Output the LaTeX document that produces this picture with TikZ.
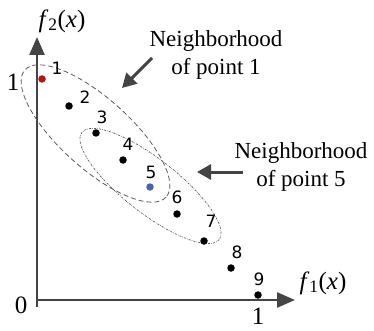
\documentclass[tikz,border=0pt]{standalone}
\usepackage{fontspec}
\setmainfont{Liberation Serif}
\newfontfamily\numfont{DejaVu Sans}
\usetikzlibrary{arrows.meta}
\definecolor{axisgray}{RGB}{68,68,68}
\definecolor{ringgray}{RGB}{90,90,90}
\definecolor{ptred}{RGB}{180,20,20}
\definecolor{ptblue}{RGB}{70,100,170}

\begin{document}
\begin{tikzpicture}[x=1pt,y=-1pt,line width=.5pt,
  axis/.style={draw=axisgray,line width=2.4pt,-{Triangle[length=18pt,width=15pt]}},
  pointer/.style={draw=axisgray,line width=3pt,-{Triangle[length=14pt,width=15pt]}},
  dot/.style={circle,inner sep=0pt,minimum size=7.5pt},
  numlabel/.style={inner sep=0pt,font=\numfont\fontsize{17}{20}\selectfont},
  textlabel/.style={inner sep=0pt,align=center,font=\fontsize{23}{28}\selectfont},
  axislabel/.style={inner sep=0pt,font=\fontsize{25}{28}\selectfont}]
\path[use as bounding box] (0,0) rectangle (374,331);
% axes
\coordinate (O) at (37,300);
\coordinate (Olow) at (37,307);
\coordinate (ytip) at (37,37);
\coordinate (xtip) at (295,300);
\draw[axis] (Olow) -- (ytip);
\draw[axis] (O) -- (xtip);
\node[axislabel] (fy) at (62,21) {\textit{f}\textsubscript{2}(\textit{x})};
\node[axislabel] (fx) at (323,283) {\textit{f}\textsubscript{1}(\textit{x})};
\node[axislabel] (yone) at (13,82) {1};
\node[axislabel] (zero) at (21,305) {0};
\node[axislabel] (xone) at (258,316) {1};
% neighborhoods
\draw[ringgray,line width=.8pt,dash pattern=on 5pt off 3pt] (95.5,133.5) ellipse [x radius=95,y radius=35,rotate=-42];
\draw[ringgray,line width=.7pt,dash pattern=on 2pt off 1.2pt on .6pt off 1.2pt] (150.5,186) ellipse [x radius=87,y radius=27,rotate=-38];
% points on the front
\foreach \i/\c in {1/ptred,2/black,3/black,4/black,5/ptblue,6/black,7/black,8/black,9/black}
  \node[dot,fill=\c] (p\i) at ({42+27*(\i-1)},{79+27*(\i-1)}) {};
\foreach \i/\dx/\dy in {1/15/-11,2/16/-9,3/6/-16,4/5/-16,5/1/-15,6/0/-17,7/7/-20,8/6/-16,9/1/-16}
  \node[numlabel] (l\i) at ([shift={(\dx,\dy)}]p\i) {\i};
% labels with arrows
\node[textlabel] (nb1) at (216,55) {Neighborhood\\of point 1};
\node[textlabel] (nb5) at (301,167) {Neighborhood\\of point 5};
\coordinate (a1) at (152,58);
\coordinate (h1) at (122,88);
\coordinate (a5) at (243,172);
\coordinate (h5) at (197,172);
\draw[pointer] (a1) -- (h1);
\draw[pointer] (a5) -- (h5);
\end{tikzpicture}
\end{document}
